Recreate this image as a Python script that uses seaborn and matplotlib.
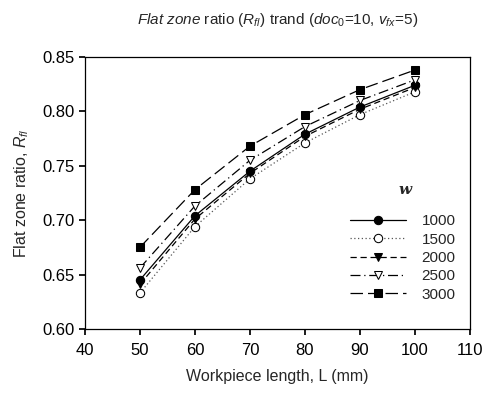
import numpy as np
import pandas as pd
import matplotlib
matplotlib.use('Agg')
import matplotlib.pyplot as plt
import seaborn as sns

# workpiece length (mm)
length = [50, 60, 70, 80, 90, 100]
# flat zone ratio for each w
r_1000 = [0.645, 0.704, 0.745, 0.779, 0.804, 0.824]
r_1500 = [0.633, 0.694, 0.738, 0.771, 0.797, 0.818]
r_2000 = [0.641, 0.701, 0.743, 0.777, 0.802, 0.822]
r_2500 = [0.656, 0.713, 0.755, 0.786, 0.810, 0.829]
r_3000 = [0.675, 0.728, 0.768, 0.797, 0.820, 0.838]
w_labels = ['1000', '1500', '2000', '2500', '3000']

sns.set_theme(style='ticks')
plt.rcParams['font.family'] = ['Liberation Sans', 'DejaVu Sans']
plt.rcParams['mathtext.fontset'] = 'custom'
plt.rcParams['mathtext.rm'] = 'Liberation Sans'
plt.rcParams['mathtext.it'] = 'Liberation Sans:italic'

fig, ax = plt.subplots(figsize=(4.85, 3.93), dpi=100)
fig.subplots_adjust(left=0.175, right=0.969, top=0.855, bottom=0.163)

series = [r_1000, r_1500, r_2000, r_2500, r_3000]
# marker, facecolor, linestyle, line colour per series
styles = [
    ('o', 'black', '-', 'black'),
    ('o', 'white', (0, (1, 2)), '#555555'),
    ('v', 'black', (0, (5, 3)), 'black'),
    ('v', 'white', (0, (8, 3, 1, 3)), 'black'),
    ('s', 'black', (0, (10, 4)), 'black'),
]
for lab, vals, (mk, fc, ls, lc) in zip(w_labels, series, styles):
    sns.lineplot(x=length, y=vals, ax=ax, color=lc, marker=mk,
                 markerfacecolor=fc, markeredgecolor='black', markersize=6,
                 linestyle=ls, linewidth=0.9, label=lab)

ax.set_xlim(40, 110)
ax.set_ylim(0.60, 0.85)
ax.set_xticks(np.arange(40, 111, 10))
ax.set_yticks(np.arange(0.60, 0.851, 0.05))
ax.set_yticklabels([f'{v:.2f}' for v in np.arange(0.60, 0.851, 0.05)])
ax.tick_params(direction='out', length=4, labelsize=12, colors='black')
ax.tick_params(axis='x', pad=6)
for sp in ax.spines.values():
    sp.set_visible(True)
    sp.set_color('black')
    sp.set_linewidth(0.9)

ax.set_xlabel('Workpiece length, L (mm)', fontsize=11.5, labelpad=8)
ax.set_ylabel('Flat zone ratio, $R_{fl}$', fontsize=11.5, labelpad=8)
ax.set_title(r'$\it{Flat\ zone}$ ratio ($\it{R}_{fl}$) trand ($\it{doc}_0$=10, $\it{v}_{fx}$=5)',
             fontsize=11, pad=24)

leg = ax.legend(loc='lower right', bbox_to_anchor=(0.998, 0.05), frameon=False,
                handlelength=3.7, handletextpad=1.0, fontsize=11, labelspacing=0.28)
ax.text(0.831, 0.511, 'w', transform=ax.transAxes, ha='center', va='center',
        family='DejaVu Serif', style='italic', weight='bold', fontsize=11)

fig.savefig('out.png', dpi=100)
